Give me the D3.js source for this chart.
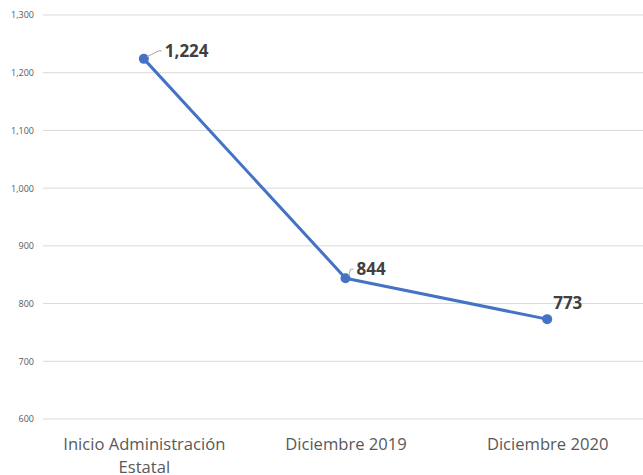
<!DOCTYPE html>
<html>
<head>
<meta charset="utf-8">
<script src="https://cdn.jsdelivr.net/npm/d3@7"></script>
<style>
body{margin:0;background:#fff;}
text{font-family:"Open Sans",sans-serif;}
</style>
</head>
<body>
<svg id="chart"></svg>
<script>
// data
var categories = ["Inicio Administración Estatal", "Diciembre 2019", "Diciembre 2020"];
var values = [1224, 844, 773];
var yTicks = [600, 700, 800, 900, 1000, 1100, 1200, 1300];
// label offsets (dx, dy) relative to point, and whether a leader line is drawn
var labelOffsets = [[21, -8], [11, -9], [6, -16]];
var leaderLines = [true, true, false];

var screen = {width: 643, height: 475};
var margins = {top: 15, left: 43, right: -5, bottom: 56};
var width = screen.width - margins.left - margins.right;
var height = screen.height - margins.top - margins.bottom;

var svg = d3.select('#chart')
  .attr('width', screen.width)
  .attr('height', screen.height);

var xScale = d3.scalePoint()
  .domain(categories)
  .range([0, width])
  .padding(0.5);

var yScale = d3.scaleLinear()
  .domain([600, 1300])
  .range([height, 0]);

var plot = svg.append('g')
  .attr('transform', 'translate(' + margins.left + ',' + margins.top + ')');

// gridlines
plot.selectAll('.grid')
  .data(yTicks)
  .enter()
  .append('line')
  .attr('x1', 0)
  .attr('x2', width)
  .attr('y1', function(d){ return yScale(d); })
  .attr('y2', function(d){ return yScale(d); })
  .attr('stroke', '#d9d9d9')
  .attr('stroke-width', 1);

// y axis labels
var yAxis = d3.axisLeft(yScale)
  .tickValues(yTicks)
  .tickSize(0)
  .tickPadding(9)
  .tickFormat(d3.format(','));
var yG = plot.append('g').call(yAxis);
yG.select('.domain').remove();
yG.selectAll('text')
  .attr('fill', '#595959')
  .style('font-size', '9px');

// x axis labels
var xAxis = d3.axisBottom(xScale).tickSize(0).tickPadding(0);
var xG = plot.append('g')
  .attr('transform', 'translate(0,' + height + ')')
  .call(xAxis);
xG.select('.domain').remove();
xG.selectAll('text').remove();
xG.selectAll('.tick').append('text')
  .attr('fill', '#595959')
  .attr('text-anchor', 'middle')
  .style('font-size', '16.6px')
  .each(function(d){
    var t = d3.select(this);
    var lines = d === "Inicio Administración Estatal" ? ["Inicio Administración", "Estatal"] : [d];
    lines.forEach(function(l, i){
      t.append('tspan').attr('x', 0).attr('y', 31 + i * 23).text(l);
    });
  });

// line
var pts = categories.map(function(c, i){ return {cat: c, val: values[i], i: i}; });
var line = d3.line()
  .x(function(d){ return xScale(d.cat); })
  .y(function(d){ return yScale(d.val); });

plot.append('path')
  .datum(pts)
  .attr('d', line)
  .attr('fill', 'none')
  .attr('stroke', '#4472c4')
  .attr('stroke-width', 3)
  .attr('stroke-linejoin', 'round');

plot.selectAll('.dot')
  .data(pts)
  .enter()
  .append('circle')
  .attr('cx', function(d){ return xScale(d.cat); })
  .attr('cy', function(d){ return yScale(d.val); })
  .attr('r', 5)
  .attr('fill', '#4472c4');

// leader lines
plot.selectAll('.leader')
  .data(pts.filter(function(d){ return leaderLines[d.i]; }))
  .enter()
  .append('path')
  .attr('fill', 'none')
  .attr('stroke', '#a6a6a6')
  .attr('stroke-width', 1)
  .attr('d', function(d){
    var x = xScale(d.cat), y = yScale(d.val);
    var o = labelOffsets[d.i];
    return 'M' + (x + 3) + ',' + (y - 2) + 'L' + (x + o[0] - 6) + ',' + (y + o[1]) + 'L' + (x + o[0] - 3) + ',' + (y + o[1]);
  });

// data labels
plot.selectAll('.lbl')
  .data(pts)
  .enter()
  .append('text')
  .attr('x', function(d){ return xScale(d.cat) + labelOffsets[d.i][0]; })
  .attr('y', function(d){ return yScale(d.val) + labelOffsets[d.i][1]; })
  .attr('dy', '0.35em')
  .attr('fill', '#404040')
  .style('font-size', '17px')
  .style('font-weight', 'bold')
  .text(function(d){ return d3.format(',')(d.val); });
</script>
</body>
</html>
